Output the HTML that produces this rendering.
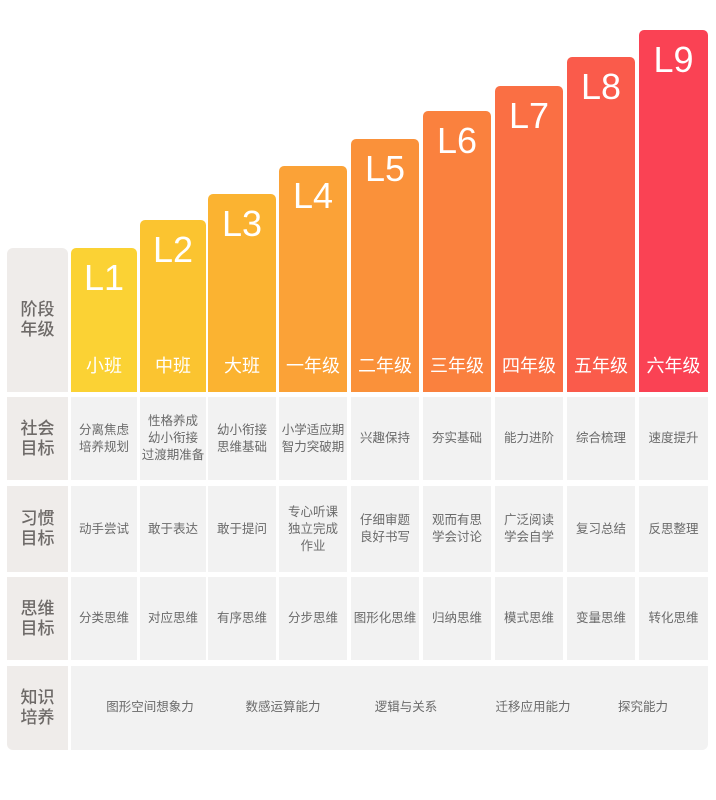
<!DOCTYPE html><html><head><meta charset="utf-8"><style>
body{margin:0;width:716px;height:800px;background:#fff;position:relative;overflow:hidden;font-family:"Liberation Sans","Noto Sans CJK SC",sans-serif}
.a{position:absolute;box-sizing:border-box;display:flex;align-items:center;justify-content:center;text-align:center}
.lab{background:#efecea;color:#6e6a68;font-size:17px;line-height:20px;font-weight:500}
.c{background:#f2f2f2;color:#6a6a6a;font-size:12.5px;line-height:17px}
.bar{border-radius:5px 5px 0 0;color:#fff;flex-direction:column;justify-content:space-between;padding:10px 0 14px}
.bar b{font-weight:400;font-size:36px;line-height:40px}
.bar span{font-size:18px}
</style></head><body>
<div class="a lab" style="left:7px;top:248px;width:61px;height:144px;border-radius:6px 6px 0 0">阶段<br>年级</div>
<div class="a lab" style="left:7px;top:397px;width:61px;height:83px">社会<br>目标</div>
<div class="a lab" style="left:7px;top:486px;width:61px;height:86px">习惯<br>目标</div>
<div class="a lab" style="left:7px;top:577px;width:61px;height:83px">思维<br>目标</div>
<div class="a lab" style="left:7px;top:666px;width:61px;height:84px;border-radius:0 0 0 6px">知识<br>培养</div>
<div class="a c" style="left:71px;top:666px;width:637px;height:84px;border-radius:0 0 6px 0"></div>
<div class="a c" style="left:100px;top:690px;width:100px;height:34px;background:none">图形空间想象力</div>
<div class="a c" style="left:233px;top:690px;width:100px;height:34px;background:none">数感运算能力</div>
<div class="a c" style="left:356px;top:690px;width:100px;height:34px;background:none">逻辑与关系</div>
<div class="a c" style="left:483px;top:690px;width:100px;height:34px;background:none">迁移应用能力</div>
<div class="a c" style="left:593px;top:690px;width:100px;height:34px;background:none">探究能力</div>
<div id="g"></div>
<script>
var X=[71,140,208,279,351,423,495,567,639],W=[66,66,68,68,68,68,68,68,69];
var T=[248,220,194,166,139,111,86,57,30];
var C=['#fbd234','#fbc430','#fbb331','#fba237','#fa913a','#fa813e','#fa6f44','#fa5b4b','#fa4254'];
var G=['小班','中班','大班','一年级','二年级','三年级','四年级','五年级','六年级'];
var R1=['分离焦虑<br>培养规划','性格养成<br>幼小衔接<br>过渡期准备','幼小衔接<br>思维基础','小学适应期<br>智力突破期','兴趣保持','夯实基础','能力进阶','综合梳理','速度提升'];
var R2=['动手尝试','敢于表达','敢于提问','专心听课<br>独立完成<br>作业','仔细审题<br>良好书写','观而有思<br>学会讨论','广泛阅读<br>学会自学','复习总结','反思整理'];
var R3=['分类思维','对应思维','有序思维','分步思维','图形化思维','归纳思维','模式思维','变量思维','转化思维'];
var h='';
for(var i=0;i<9;i++){
h+='<div class="a bar" style="left:'+X[i]+'px;top:'+T[i]+'px;width:'+W[i]+'px;height:'+(392-T[i])+'px;background:'+C[i]+'"><b>L'+(i+1)+'</b><span>'+G[i]+'</span></div>';
h+='<div class="a c" style="left:'+X[i]+'px;top:397px;width:'+W[i]+'px;height:83px">'+R1[i]+'</div>';
h+='<div class="a c" style="left:'+X[i]+'px;top:486px;width:'+W[i]+'px;height:86px">'+R2[i]+'</div>';
h+='<div class="a c" style="left:'+X[i]+'px;top:577px;width:'+W[i]+'px;height:83px">'+R3[i]+'</div>';
}
document.getElementById('g').innerHTML=h;
</script>
</body></html>
